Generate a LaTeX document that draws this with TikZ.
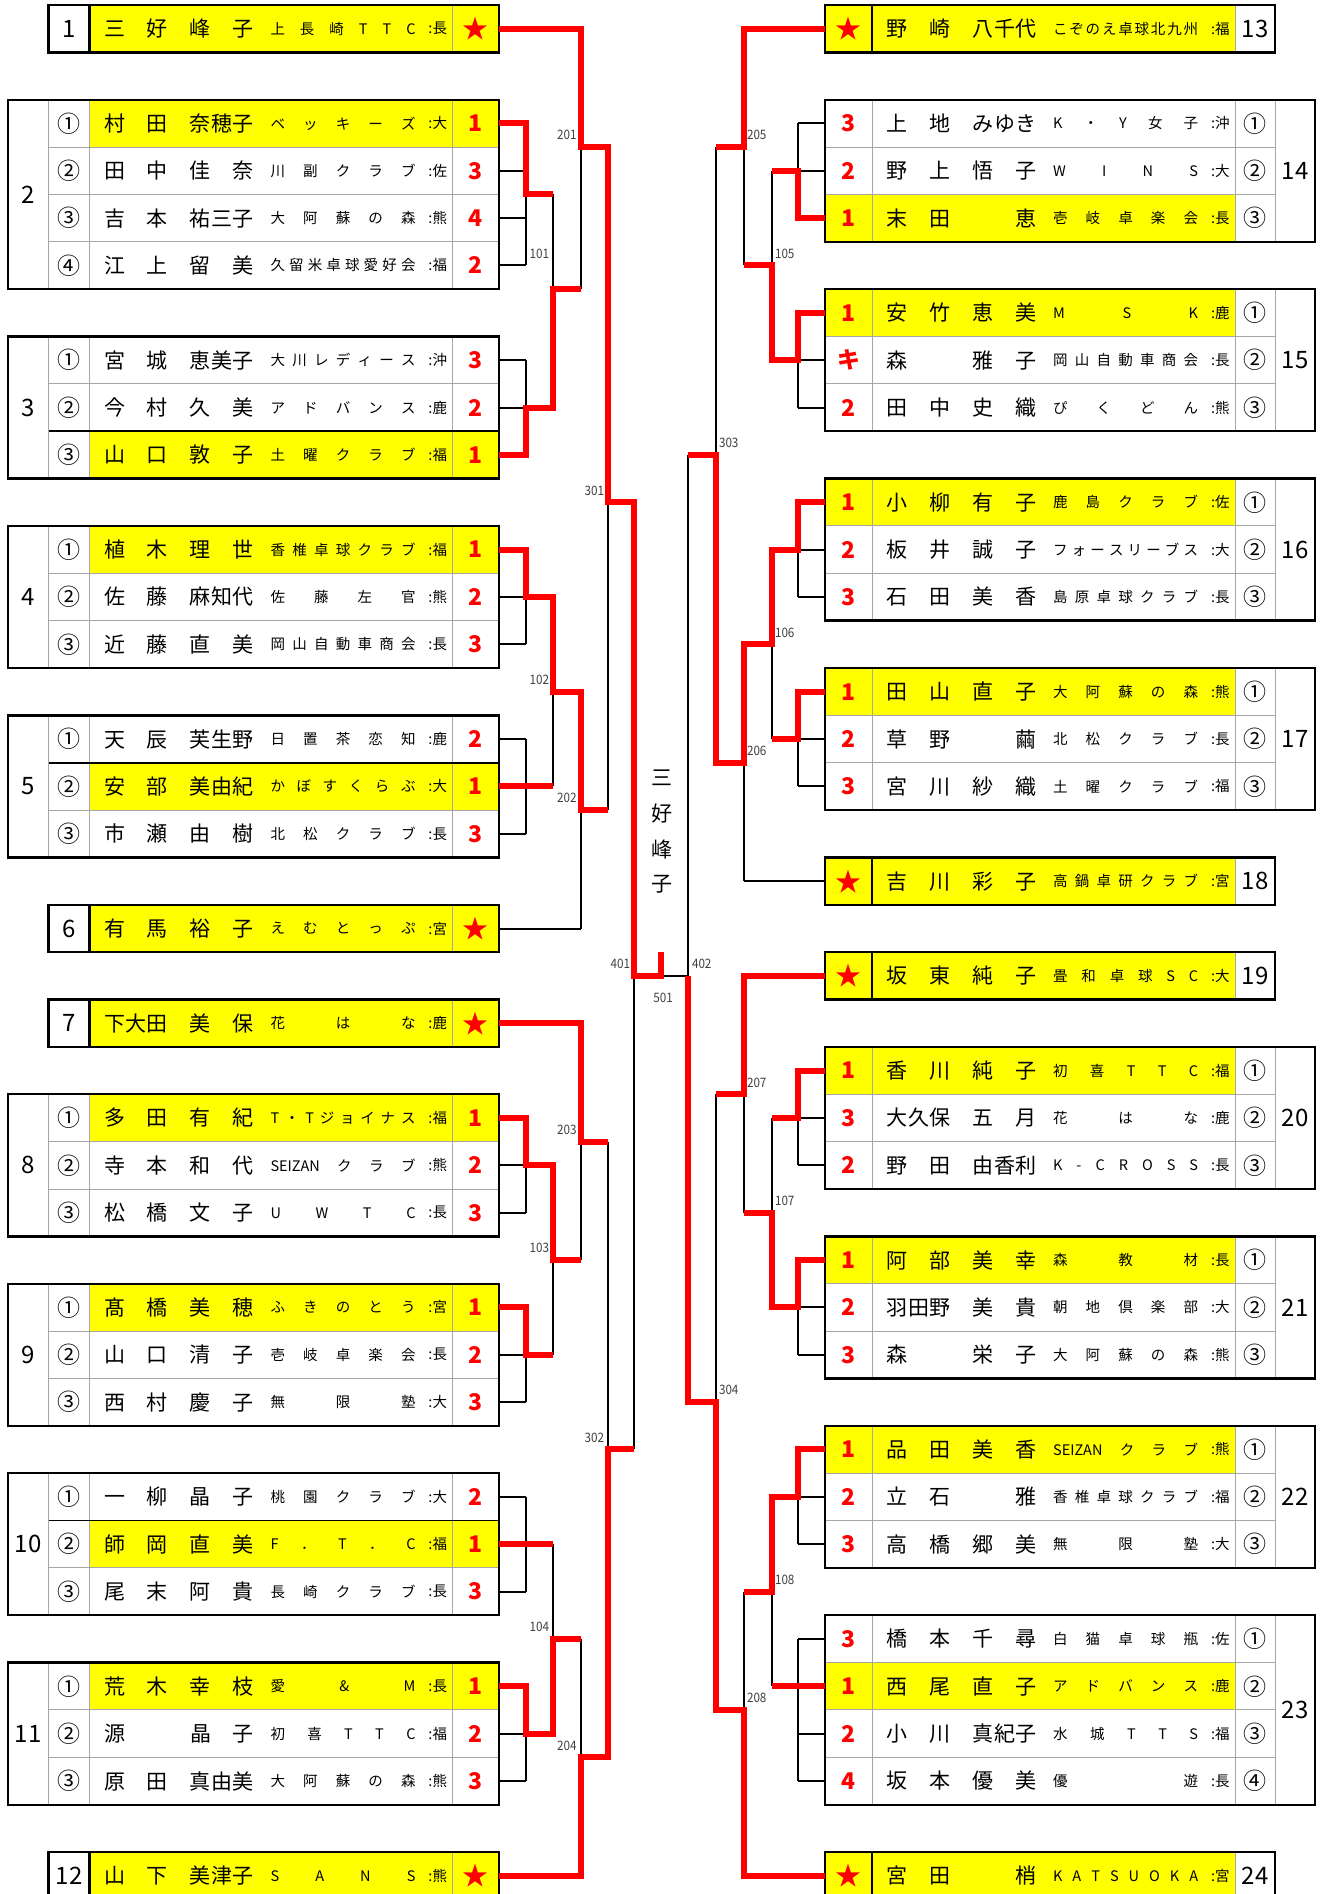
\documentclass[tikz,border=0pt]{standalone}
\usepackage{fontspec}
\usepackage{graphicx}
\setmainfont{Noto Sans CJK JP}
\definecolor{yel}{HTML}{FFFF00}
\definecolor{gline}{HTML}{A6A6A6}
\makeatletter
\newcommand\dist[2]{\hbox to #1{\def\dist@sep{}\@tfor\dist@t:=#2\do{\dist@sep\dist@t\def\dist@sep{\hfil}}}}
\makeatother
\newcommand\nmf{\fontsize{10.5}{11}\selectfont}
\newcommand\clf{\fontsize{7.25}{8}\selectfont}
\newcommand\Nm[7]{%
 \node[txt,anchor=west,font=\nmf] (#1-n) at ({#2+104},#3) {\dist{32pt}{#4}\hskip11pt\dist{32pt}{#5}};
 \node[txt,anchor=west,font=\clf] (#1-c) at ({#2+270.5},#3) {\dist{72.5pt}{#6}};
 \node[txt,anchor=east,font=\clf] (#1-p) at ({#2+447},#3) {:#7};}
\newcommand\LR[8]{\node[cnum] (#1c) at (69,#2) {#3};\Nm{#1}{0}{#2}{#4}{#5}{#6}{#7}\node[score] (#1) at (475.5,#2) {#8};}
\newcommand\RR[8]{\node[score] (#1) at (848.5,#2) {#8};\Nm{#1}{782.6}{#2}{#4}{#5}{#6}{#7}\node[cnum] (#1c) at (1255,#2) {#3};}
\newcommand\LS[7]{\node[grp] (#1g) at (69,#2) {#3};\Nm{#1}{0}{#2}{#4}{#5}{#6}{#7}\node[stc] (#1) at (475.5,#2) {★};}
\newcommand\RS[7]{\node[stc] (#1) at (848.5,#2) {★};\Nm{#1}{782.6}{#2}{#4}{#5}{#6}{#7}\node[grp] (#1g) at (1255,#2) {#3};}
\newcommand\LT[3]{%
 \foreach \b in {#3}{\draw[gl] (48.6,\b) -- (499,\b);}
 \draw[gl] (48.6,#1) -- (48.6,#2) (89.4,#1) -- (89.4,#2) (452,#1) -- (452,#2);
 \draw[ob] (8,#1) rectangle (499,#2);}
\newcommand\LST[2]{%
 \draw[gl] (452,#1) -- (452,#2);
 \draw[ob] (89.4,#1) -- (89.4,#2);
 \draw[ob] (48.6,#1) rectangle (499,#2);}
\newcommand\RT[3]{%
 \foreach \b in {#3}{\draw[gl] (825,\b) -- (1275,\b);}
 \draw[gl] (872,#1) -- (872,#2) (1235,#1) -- (1235,#2) (1275,#1) -- (1275,#2);
 \draw[ob] (825,#1) rectangle (1315,#2);}
\newcommand\RST[2]{%
 \draw[gl] (1235,#1) -- (1235,#2);
 \draw[ob] (872,#1) -- (872,#2);
 \draw[ob] (825,#1) rectangle (1275,#2);}
\newcommand\GL[4]{%
 \foreach \r in {#2}{\draw[bk] (\r.east) -- (\r.east -| #1);}
 \draw[bk] (#3.east -| #1) -- (#4.east -| #1);}
\newcommand\GR[4]{%
 \foreach \r in {#2}{\draw[bk] (\r.west) -- (\r.west -| #1);}
 \draw[bk] (#3.west -| #1) -- (#4.west -| #1);}
\newcommand\MT[4]{%
 \draw[bk] (#2 -| #1) -- (#3 -| #1);
 \draw[bk] (#2) -- (#2 -| #1);
 \draw[bk] (#3) -- (#3 -| #1);
 \draw[bk] (#1) -- (#1 -| #4);}
\newcommand\lbl[4]{\node[lab,anchor=#1] (lb#4) at (#2,#3) {\scalebox{0.9}[1]{#4}};}
\begin{document}
\begin{tikzpicture}[x=0.5pt,y=-11.84pt,
 txt/.style={inner sep=0pt,outer sep=0pt},
 cellnode/.style={inner sep=0pt,outer sep=0pt,minimum width=23.5pt,minimum height=23.68pt},
 score/.style={cellnode,text=red,font=\fontsize{11.5}{12}\selectfont\bfseries},
 stc/.style={cellnode,text=red,font=\fontsize{13}{13}\selectfont},
 cnum/.style={txt,font=\fontsize{11.5}{12}\selectfont},
 grp/.style={txt,font=\fontsize{12}{12}\selectfont},
 lab/.style={txt,font=\fontsize{6.5}{7}\selectfont,text=black!75},
 bk/.style={line width=1pt},
 rd/.style={red,line width=3pt,line join=miter},
 gl/.style={draw=gline,line width=0.5pt},
 ob/.style={line width=1.2pt}]
\useasboundingbox (0,-0.2111) rectangle (1327,79.772);
\fill[white] (0,-0.2111) rectangle (1327,79.772);
% match coordinates
\coordinate (G2) at (526,8);   \coordinate (G3) at (526,17);
\coordinate (G4) at (526,25);  \coordinate (G5) at (526,33);
\coordinate (G8) at (526,49);  \coordinate (G9) at (526,57);
\coordinate (G10) at (526,65); \coordinate (G11) at (526,73);
\coordinate (G14) at (798,7);  \coordinate (G15) at (798,15);
\coordinate (G16) at (798,23); \coordinate (G17) at (798,31);
\coordinate (G20) at (798,47); \coordinate (G21) at (798,55);
\coordinate (G22) at (798,63); \coordinate (G23) at (798,71);
\coordinate (M101) at (553,12); \coordinate (M102) at (553,29);
\coordinate (M103) at (553,53); \coordinate (M104) at (553,69);
\coordinate (M201) at (580.5,6); \coordinate (M202) at (580.5,34);
\coordinate (M203) at (580.5,48); \coordinate (M204) at (580.5,74);
\coordinate (M301) at (608,21); \coordinate (M302) at (608,61);
\coordinate (M401) at (634,41);
\coordinate (M105) at (772,11); \coordinate (M106) at (772,27);
\coordinate (M107) at (772,51); \coordinate (M108) at (772,67);
\coordinate (M205) at (744,6); \coordinate (M206) at (744,32);
\coordinate (M207) at (744,46); \coordinate (M208) at (744,72);
\coordinate (M303) at (716,19); \coordinate (M304) at (716,59);
\coordinate (M402) at (688,41);
\coordinate (M501) at (661,41); \coordinate (Champ) at (661,40);
% yellow fills
\foreach \a/\b in {0/2,38/40,42/44,78/80,4/6,18/20,22/24,32/34,46/48,54/56,64/66,70/72}
  {\fill[yel] (89.4,\a) rectangle (499,\b);}
\foreach \a/\b in {0/2,36/38,40/42,78/80,8/10,12/14,20/22,28/30,44/46,52/54,60/62,70/72}
  {\fill[yel] (825,\a) rectangle (1235,\b);}
% left tables
\LST{0}{2}
\LT{4}{12}{6,8,10}
\LT{14}{20}{16,18}
\LT{22}{28}{24,26}
\LT{30}{36}{32,34}
\LST{38}{40}
\LST{42}{44}
\LT{46}{52}{48,50}
\LT{54}{60}{56,58}
\LT{62}{68}{64,66}
\LT{70}{76}{72,74}
\LST{78}{80}
\draw[line width=0.9pt] (48.6,18) -- (499,18) (48.6,32) -- (499,32) (48.6,64) -- (499,64);
% right tables
\RST{0}{2}
\RT{4}{10}{6,8}
\RT{12}{18}{14,16}
\RT{20}{26}{22,24}
\RT{28}{34}{30,32}
\RST{36}{38}
\RST{40}{42}
\RT{44}{50}{46,48}
\RT{52}{58}{54,56}
\RT{60}{66}{62,64}
\RT{68}{76}{70,72,74}
\RST{78}{80}
% group numbers
\node[grp] (gn2) at (28.3,8) {2};
\node[grp] (gn3) at (28.3,17) {3};
\node[grp] (gn4) at (28.3,25) {4};
\node[grp] (gn5) at (28.3,33) {5};
\node[grp] (gn8) at (28.3,49) {8};
\node[grp] (gn9) at (28.3,57) {9};
\node[grp] (gn10) at (28.3,65) {10};
\node[grp] (gn11) at (28.3,73) {11};
\node[grp] (gn14) at (1295,7) {14};
\node[grp] (gn15) at (1295,15) {15};
\node[grp] (gn16) at (1295,23) {16};
\node[grp] (gn17) at (1295,31) {17};
\node[grp] (gn20) at (1295,47) {20};
\node[grp] (gn21) at (1295,55) {21};
\node[grp] (gn22) at (1295,63) {22};
\node[grp] (gn23) at (1295,72) {23};
% left entries
\LS{L1}{1}{1}{三好}{峰子}{上長崎TTC}{長}
\LR{L2a}{5}{①}{村田}{奈穂子}{ベッキーズ}{大}{1}
\LR{L2b}{7}{②}{田中}{佳奈}{川副クラブ}{佐}{3}
\LR{L2c}{9}{③}{吉本}{祐三子}{大阿蘇の森}{熊}{4}
\LR{L2d}{11}{④}{江上}{留美}{久留米卓球愛好会}{福}{2}
\LR{L3a}{15}{①}{宮城}{恵美子}{大川レディース}{沖}{3}
\LR{L3b}{17}{②}{今村}{久美}{アドバンス}{鹿}{2}
\LR{L3c}{19}{③}{山口}{敦子}{土曜クラブ}{福}{1}
\LR{L4a}{23}{①}{植木}{理世}{香椎卓球クラブ}{福}{1}
\LR{L4b}{25}{②}{佐藤}{麻知代}{佐藤左官}{熊}{2}
\LR{L4c}{27}{③}{近藤}{直美}{岡山自動車商会}{長}{3}
\LR{L5a}{31}{①}{天辰}{芙生野}{日置茶恋知}{鹿}{2}
\LR{L5b}{33}{②}{安部}{美由紀}{かぼすくらぶ}{大}{1}
\LR{L5c}{35}{③}{市瀬}{由樹}{北松クラブ}{長}{3}
\LS{L6}{39}{6}{有馬}{裕子}{えむとっぷ}{宮}
\LS{L7}{43}{7}{下大田}{美保}{花はな}{鹿}
\LR{L8a}{47}{①}{多田}{有紀}{T・Tジョイナス}{福}{1}
\LR{L8b}{49}{②}{寺本}{和代}{{SEIZAN}クラブ}{熊}{2}
\LR{L8c}{51}{③}{松橋}{文子}{UWTC}{長}{3}
\LR{L9a}{55}{①}{髙橋}{美穂}{ふきのとう}{宮}{1}
\LR{L9b}{57}{②}{山口}{清子}{壱岐卓楽会}{長}{2}
\LR{L9c}{59}{③}{西村}{慶子}{無限塾}{大}{3}
\LR{L10a}{63}{①}{一柳}{晶子}{桃園クラブ}{大}{2}
\LR{L10b}{65}{②}{師岡}{直美}{F．T．C}{福}{1}
\LR{L10c}{67}{③}{尾末}{阿貴}{長崎クラブ}{長}{3}
\LR{L11a}{71}{①}{荒木}{幸枝}{愛{\&}M}{長}{1}
\LR{L11b}{73}{②}{源{\hfil}}{晶子}{初喜TTC}{福}{2}
\LR{L11c}{75}{③}{原田}{真由美}{大阿蘇の森}{熊}{3}
\LS{L12}{79}{12}{山下}{美津子}{SANS}{熊}
% right entries
\RS{R13}{1}{13}{野崎}{八千代}{こぞのえ卓球北九州}{福}
\RR{R14a}{5}{①}{上地}{みゆき}{K・Y女子}{沖}{3}
\RR{R14b}{7}{②}{野上}{悟子}{WINS}{大}{2}
\RR{R14c}{9}{③}{末田}{{\hfil}恵}{壱岐卓楽会}{長}{1}
\RR{R15a}{13}{①}{安竹}{恵美}{MSK}{鹿}{1}
\RR{R15b}{15}{②}{森{\hfil}}{雅子}{岡山自動車商会}{長}{キ}
\RR{R15c}{17}{③}{田中}{史織}{ぴくどん}{熊}{2}
\RR{R16a}{21}{①}{小柳}{有子}{鹿島クラブ}{佐}{1}
\RR{R16b}{23}{②}{板井}{誠子}{フォースリーブス}{大}{2}
\RR{R16c}{25}{③}{石田}{美香}{島原卓球クラブ}{長}{3}
\RR{R17a}{29}{①}{田山}{直子}{大阿蘇の森}{熊}{1}
\RR{R17b}{31}{②}{草野}{{\hfil}繭}{北松クラブ}{長}{2}
\RR{R17c}{33}{③}{宮川}{紗織}{土曜クラブ}{福}{3}
\RS{R18}{37}{18}{吉川}{彩子}{高鍋卓研クラブ}{宮}
\RS{R19}{41}{19}{坂東}{純子}{畳和卓球SC}{大}
\RR{R20a}{45}{①}{香川}{純子}{初喜TTC}{福}{1}
\RR{R20b}{47}{②}{大久保}{五月}{花はな}{鹿}{3}
\RR{R20c}{49}{③}{野田}{由香利}{K-CROSS}{長}{2}
\RR{R21a}{53}{①}{阿部}{美幸}{森教材}{長}{1}
\RR{R21b}{55}{②}{羽田野}{美貴}{朝地倶楽部}{大}{2}
\RR{R21c}{57}{③}{森{\hfil}}{栄子}{大阿蘇の森}{熊}{3}
\RR{R22a}{61}{①}{品田}{美香}{{SEIZAN}クラブ}{熊}{1}
\RR{R22b}{63}{②}{立石}{{\hfil}雅}{香椎卓球クラブ}{福}{2}
\RR{R22c}{65}{③}{高橋}{郷美}{無限塾}{大}{3}
\RR{R23a}{69}{①}{橋本}{千尋}{白猫卓球瓶}{佐}{3}
\RR{R23b}{71}{②}{西尾}{直子}{アドバンス}{鹿}{1}
\RR{R23c}{73}{③}{小川}{真紀子}{水城TTS}{福}{2}
\RR{R23d}{75}{④}{坂本}{優美}{優遊}{長}{4}
\RS{R24}{79}{24}{宮田}{{\hfil}梢}{KATSUOKA}{宮}
% champion name
\node[txt,font=\nmf] (ch1) at (662,32.65) {三};
\node[txt,font=\nmf] (ch2) at (662,34.15) {好};
\node[txt,font=\nmf] (ch3) at (662,35.65) {峰};
\node[txt,font=\nmf] (ch4) at (662,37.15) {子};
% black bracket
\GL{G2}{L2a,L2b,L2c,L2d}{L2a}{L2d}
\GL{G3}{L3a,L3b,L3c}{L3a}{L3c}
\GL{G4}{L4a,L4b,L4c}{L4a}{L4c}
\GL{G5}{L5a,L5b,L5c}{L5a}{L5c}
\GL{G8}{L8a,L8b,L8c}{L8a}{L8c}
\GL{G9}{L9a,L9b,L9c}{L9a}{L9c}
\GL{G10}{L10a,L10b,L10c}{L10a}{L10c}
\GL{G11}{L11a,L11b,L11c}{L11a}{L11c}
\GR{G14}{R14a,R14b,R14c}{R14a}{R14c}
\GR{G15}{R15a,R15b,R15c}{R15a}{R15c}
\GR{G16}{R16a,R16b,R16c}{R16a}{R16c}
\GR{G17}{R17a,R17b,R17c}{R17a}{R17c}
\GR{G20}{R20a,R20b,R20c}{R20a}{R20c}
\GR{G21}{R21a,R21b,R21c}{R21a}{R21c}
\GR{G22}{R22a,R22b,R22c}{R22a}{R22c}
\GR{G23}{R23a,R23b,R23c,R23d}{R23a}{R23d}
\MT{M101}{G2}{G3}{M201}
\MT{M102}{G4}{G5}{M202}
\MT{M103}{G8}{G9}{M203}
\MT{M104}{G10}{G11}{M204}
\MT{M201}{L1.east}{M101}{M301}
\MT{M202}{M102}{L6.east}{M301}
\MT{M203}{L7.east}{M103}{M302}
\MT{M204}{M104}{L12.east}{M302}
\MT{M301}{M201}{M202}{M401}
\MT{M302}{M203}{M204}{M401}
\MT{M401}{M301}{M302}{M501}
\MT{M105}{G14}{G15}{M205}
\MT{M106}{G16}{G17}{M206}
\MT{M107}{G20}{G21}{M207}
\MT{M108}{G22}{G23}{M208}
\MT{M205}{R13.west}{M105}{M303}
\MT{M206}{M106}{R18.west}{M303}
\MT{M207}{R19.west}{M107}{M304}
\MT{M208}{M108}{R24.west}{M304}
\MT{M303}{M205}{M206}{M402}
\MT{M304}{M207}{M208}{M402}
\MT{M402}{M303}{M304}{M501}
% red winner paths
\draw[rd] (L1.east) -- (L1.east -| M201) -- (M201) -- (M201 -| M301) -- (M301) -- (M301 -| M401) -- (M401) -- (M501) -- (Champ);
\draw[rd] (L2a.east) -- (L2a.east -| G2) -- (G2) -- (G2 -| M101);
\draw[rd] (L3c.east) -- (L3c.east -| G3) -- (G3) -- (G3 -| M101) -- (M101) -- (M101 -| M201);
\draw[rd] (L4a.east) -- (L4a.east -| G4) -- (G4) -- (G4 -| M102) -- (M102) -- (M102 -| M202) -- (M202) -- (M202 -| M301);
\draw[rd] (L5b.east) -- (G5) -- (G5 -| M102);
\draw[rd] (L7.east) -- (L7.east -| M203) -- (M203) -- (M203 -| M302);
\draw[rd] (L8a.east) -- (L8a.east -| G8) -- (G8) -- (G8 -| M103) -- (M103) -- (M103 -| M203);
\draw[rd] (L9a.east) -- (L9a.east -| G9) -- (G9) -- (G9 -| M103);
\draw[rd] (L10b.east) -- (G10) -- (G10 -| M104);
\draw[rd] (L11a.east) -- (L11a.east -| G11) -- (G11) -- (G11 -| M104) -- (M104) -- (M104 -| M204);
\draw[rd] (L12.east) -- (L12.east -| M204) -- (M204) -- (M204 -| M302) -- (M302) -- (M302 -| M401);
\draw[rd] (R13.west) -- (R13.west -| M205) -- (M205) -- (M205 -| M303);
\draw[rd] (R14c.west) -- (R14c.west -| G14) -- (G14) -- (G14 -| M105);
\draw[rd] (R15a.west) -- (R15a.west -| G15) -- (G15) -- (G15 -| M105) -- (M105) -- (M105 -| M205);
\draw[rd] (R16a.west) -- (R16a.west -| G16) -- (G16) -- (G16 -| M106) -- (M106) -- (M106 -| M206) -- (M206) -- (M206 -| M303) -- (M303) -- (M303 -| M402);
\draw[rd] (R17a.west) -- (R17a.west -| G17) -- (G17) -- (G17 -| M106);
\draw[rd] (R19.west) -- (R19.west -| M207) -- (M207) -- (M207 -| M304);
\draw[rd] (R20a.west) -- (R20a.west -| G20) -- (G20) -- (G20 -| M107);
\draw[rd] (R21a.west) -- (R21a.west -| G21) -- (G21) -- (G21 -| M107) -- (M107) -- (M107 -| M207);
\draw[rd] (R22a.west) -- (R22a.west -| G22) -- (G22) -- (G22 -| M108) -- (M108) -- (M108 -| M208);
\draw[rd] (R23b.west) -- (G23) -- (G23 -| M108);
\draw[rd] (R24.west) -- (R24.west -| M208) -- (M208) -- (M208 -| M304) -- (M304) -- (M304 -| M402) -- (M402);
% match labels
\lbl{east}{576.5}{5.5}{201}
\lbl{east}{549}{10.5}{101}
\lbl{east}{604}{20.5}{301}
\lbl{east}{549}{28.5}{102}
\lbl{east}{576.5}{33.5}{202}
\lbl{east}{630}{40.5}{401}
\lbl{east}{576.5}{47.5}{203}
\lbl{east}{549}{52.5}{103}
\lbl{east}{604}{60.5}{302}
\lbl{east}{549}{68.5}{104}
\lbl{east}{576.5}{73.5}{204}
\lbl{west}{747}{5.5}{205}
\lbl{west}{775}{10.5}{105}
\lbl{west}{719}{18.5}{303}
\lbl{west}{775}{26.5}{106}
\lbl{west}{747}{31.5}{206}
\lbl{west}{692}{40.5}{402}
\lbl{west}{747}{45.5}{207}
\lbl{west}{775}{50.5}{107}
\lbl{west}{719}{58.5}{304}
\lbl{west}{775}{66.5}{108}
\lbl{west}{747}{71.5}{208}
\lbl{center}{663}{41.93}{501}
\end{tikzpicture}
\end{document}
